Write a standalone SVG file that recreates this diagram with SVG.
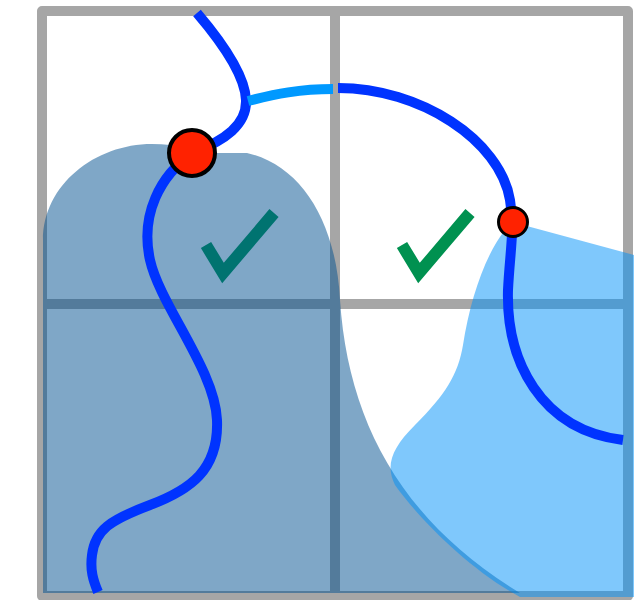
<svg xmlns="http://www.w3.org/2000/svg" width="634" height="600" viewBox="0 0 634 600">
  <style>
    .grid { fill: none; stroke: #a6a6a6; stroke-width: 10; stroke-linejoin: round; }
    .curve { fill: none; stroke: #0033ff; stroke-width: 10; stroke-linecap: butt; }
    .link { fill: none; stroke: #0099ff; stroke-width: 10; stroke-linecap: butt; }
    .dot { fill: #ff2200; stroke: #000000; }
    .check { fill: none; stroke-width: 12; stroke-linecap: butt; stroke-linejoin: miter; }
  </style>

  <!-- 2x2 grid -->
  <g id="grid">
    <rect class="grid" x="42" y="11" width="586" height="585"/>
    <line class="grid" x1="335" y1="6" x2="335" y2="596"/>
    <line class="grid" x1="42" y1="304" x2="628" y2="304"/>
  </g>

  <!-- shaded regions -->
  <g id="region-dark">
    <path d="M43,593 L43,240 C43,185 95,144 152,144 C178,144 195,150 212,153 L247,153 C300,165 336,220 340,300 C348,420 400,520 520,593 Z" fill="#004f8f" fill-opacity="0.5"/>
  </g>
  <g id="region-light">
    <path d="M512,222 L634,255 L634,597 L520,597 C470,570 420,520 395,485 C385,465 392,448 415,425 C445,395 458,375 463,345 C470,300 485,255 505,230 Z" fill="#0091f9" fill-opacity="0.5"/>
  </g>

  <!-- connectors -->
  <g id="connectors">
    <path class="curve" d="M197,13 C220,40 245,75 246,100 C247,125 225,140 193,153 C160,175 140,215 150,260 C160,305 215,370 217,420 C219,470 190,490 150,505 C110,520 95,530 92,555 C90,570 93,580 98,592"/>
    <path class="link" d="M248,101 C275,94 300,89 333,89"/>
    <path class="curve" d="M338,88 C420,88 500,140 510,200 C515,230 510,250 508,290 C506,360 540,430 623,440"/>
  </g>

  <!-- junction points -->
  <g id="node-a">
    <circle class="dot" cx="192" cy="153" r="23" stroke-width="4"/>
  </g>
  <g id="node-b">
    <circle class="dot" cx="513" cy="222" r="14.5" stroke-width="3"/>
  </g>

  <!-- check marks -->
  <g id="check-left">
    <polyline class="check" stroke="#007370" points="206,245 223,273 274,213"/>
  </g>
  <g id="check-right">
    <polyline class="check" stroke="#009150" points="402,245 419,273 470,213"/>
  </g>
</svg>
